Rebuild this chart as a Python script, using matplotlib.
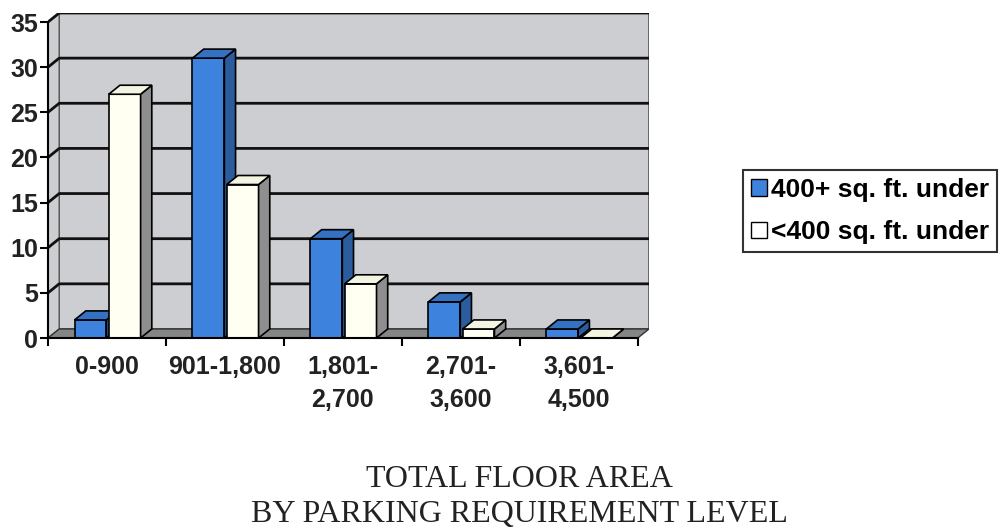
import matplotlib.pyplot as plt
import numpy as np
from matplotlib.patches import Polygon, Patch

categories = ['0-900', '901-1,800', '1,801-\n2,700', '2,701-\n3,600', '3,601-\n4,500']
big_units = [2, 31, 11, 4, 1]
small_units = [27, 17, 6, 1, 0]
series_names = ['400+ sq. ft. under', '<400 sq. ft. under']

BLUE = ('#3d83de', '#2a5c9e', '#3471c0')    # front, side, top
IVORY = ('#fffff2', '#8e8e8e', '#f4f4e2')
WALL = '#cdced1'
FLOOR = '#858585'

DX = 0.095   # depth in category units
DY = 1.0     # depth in value units
W = 0.27

fig = plt.figure(figsize=(10.05, 5.31), dpi=100)
ax = fig.add_axes([48 / 1005, (531 - 338) / 531, 601 / 1005, 325 / 531])
ax.set_xlim(-0.5, 4.5 + DX)
ax.set_ylim(0, 35 + DY)

x0, x1 = -0.5, 4.5
# walls and floor
ax.add_patch(Polygon([(x0 + DX, DY), (x1 + DX, DY), (x1 + DX, 35 + DY), (x0 + DX, 35 + DY)],
                     closed=True, fc=WALL, ec='#555555', lw=1.2, zorder=0))
ax.add_patch(Polygon([(x0, 0), (x0 + DX, DY), (x0 + DX, 35 + DY), (x0, 35)],
                     closed=True, fc=WALL, ec='#555555', lw=1.0, zorder=0))
ax.add_patch(Polygon([(x0, 0), (x1, 0), (x1 + DX, DY), (x0 + DX, DY)],
                     closed=True, fc=FLOOR, ec='#333333', lw=1.0, zorder=1))
for k in range(5, 40, 5):
    ax.plot([x0, x0 + DX, x1 + DX], [k, k + DY, k + DY], color='#111111', lw=2, zorder=1)


def bar3d(xc, h, colors):
    front, side, top = colors
    l, r = xc - W / 2, xc + W / 2
    ax.bar(xc, h, width=W, color=front, edgecolor='black', lw=1.2, zorder=3)
    ax.add_patch(Polygon([(r, 0), (r + DX, DY), (r + DX, h + DY), (r, h)],
                         closed=True, fc=side, ec='black', lw=1.2, zorder=3))
    ax.add_patch(Polygon([(l, h), (r, h), (r + DX, h + DY), (l + DX, h + DY)],
                         closed=True, fc=top, ec='black', lw=1.2, zorder=3))


x = np.arange(len(categories))
for i in x:
    bar3d(i - 0.14, big_units[i], BLUE)
    bar3d(i + 0.15, small_units[i], IVORY)

for s in ['top', 'right']:
    ax.spines[s].set_visible(False)
ax.spines['left'].set_bounds(0, 35)
ax.spines['bottom'].set_bounds(x0, x1)
ax.spines['left'].set_linewidth(1.5)
ax.spines['bottom'].set_linewidth(1.5)
ax.spines['bottom'].set_zorder(4)

ax.set_yticks(range(0, 40, 5))
ax.set_xticks(x)
ax.set_xticklabels(categories)
ax.set_xticks(np.arange(-0.5, 5, 1), minor=True)
ax.tick_params(axis='x', which='major', length=0, pad=12)
ax.tick_params(axis='x', which='minor', length=6, width=1.5, direction='out')
ax.tick_params(axis='y', length=6, width=1.5, pad=1)
for lab in ax.get_xticklabels() + ax.get_yticklabels():
    lab.set_fontfamily('Liberation Sans')
    lab.set_fontweight('bold')
    lab.set_fontsize(18)
    lab.set_color('#222222')
for lab in ax.get_xticklabels():
    lab.set_linespacing(1.5)

handles = [Patch(fc=BLUE[0], ec='black'), Patch(fc='white', ec='black')]
leg = fig.legend(handles, series_names, loc='upper left', bbox_to_anchor=(743 / 1005, 1 - 170 / 531),
                 frameon=True, fancybox=False, edgecolor='black', handlelength=0.6, handleheight=0.6,
                 handletextpad=0.15, borderpad=0.3, borderaxespad=0, labelspacing=0.7,
                 prop={'family': 'Liberation Sans', 'weight': 'bold', 'size': 19})
leg.get_frame().set_linewidth(1.5)

fig.text(0.517, 1 - 497 / 531, 'TOTAL FLOOR AREA\nBY PARKING REQUIREMENT LEVEL',
         ha='center', va='center', family='Liberation Serif', fontsize=23,
         color='#222222', linespacing=1.25)

fig.savefig('out.png', dpi=100)
